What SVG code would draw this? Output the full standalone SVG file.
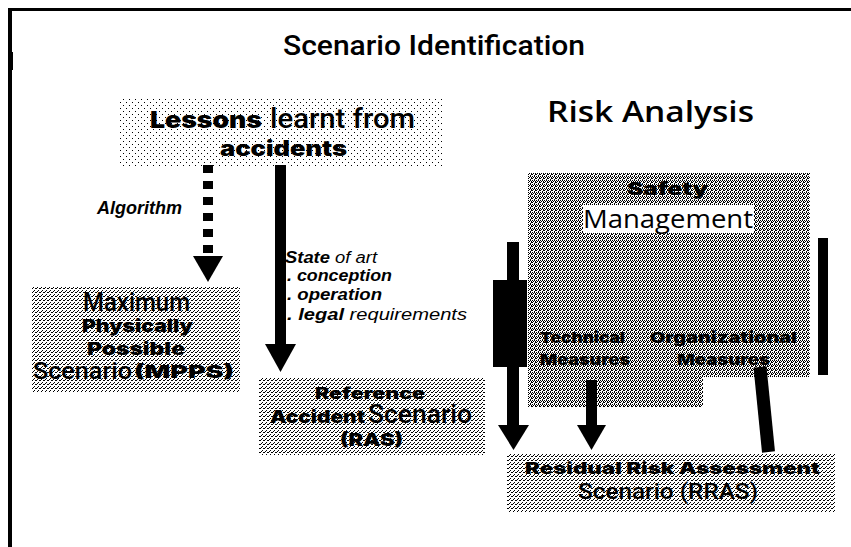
<svg xmlns="http://www.w3.org/2000/svg" width="851" height="547" viewBox="0 0 851 547">
<style>
.reg{font-family:Roboto,"Liberation Sans",sans-serif;font-weight:500;fill:#000}
.hum{font-family:"Open Sans","Liberation Sans",sans-serif;fill:#000}
.bld{font-family:Inter,"Liberation Sans",Arial,sans-serif;font-weight:900;fill:#000}
.ital{font-family:"Liberation Sans",Arial,sans-serif;font-style:italic;font-weight:bold;fill:#000}
.italr{font-family:"Liberation Sans",Arial,sans-serif;font-style:italic;fill:#000}
.ink{fill:#000}
</style>
<defs>
<pattern id="pl" width="6" height="6" patternUnits="userSpaceOnUse"><rect x="0" y="0" width="1" height="1" fill="#000"/><rect x="3" y="3" width="1" height="1" fill="#000"/></pattern>
<pattern id="pm" width="4" height="4" patternUnits="userSpaceOnUse"><rect x="0" y="0" width="1" height="1" fill="#000"/><rect x="2" y="2" width="1" height="1" fill="#000"/><rect x="3" y="0" width="1" height="1" fill="#000"/><rect x="1" y="3" width="1" height="1" fill="#000"/></pattern>
<pattern id="pd" width="4" height="4" patternUnits="userSpaceOnUse"><rect x="0" y="0" width="1" height="1" fill="#000"/><rect x="2" y="0" width="1" height="1" fill="#000"/><rect x="1" y="1" width="1" height="1" fill="#000"/><rect x="3" y="1" width="1" height="1" fill="#000"/><rect x="0" y="2" width="1" height="1" fill="#000"/><rect x="3" y="2" width="1" height="1" fill="#000"/><rect x="2" y="3" width="1" height="1" fill="#000"/></pattern>
</defs>
<rect width="851" height="547" fill="#fff"/>
<g id="frame">
<rect x="8" y="8" width="843" height="3" class="ink"/>
<rect x="8" y="8" width="4" height="539" class="ink"/>
<rect x="11" y="52" width="2" height="18" class="ink"/>
</g>
<g id="headings">
<text class="reg" x="283" y="55" font-size="28" textLength="302" lengthAdjust="spacingAndGlyphs">Scenario Identification</text>
<text class="hum" x="547" y="122" font-size="29" font-weight="600" textLength="207" lengthAdjust="spacingAndGlyphs">Risk Analysis</text>
</g>
<g id="lessons">
<rect x="120" y="98" width="323" height="69" fill="url(#pl)"/>
<text class="bld" x="150" y="128" font-size="23" textLength="112" lengthAdjust="spacingAndGlyphs">Lessons</text>
<text class="reg" x="270" y="128" font-size="28" textLength="145" lengthAdjust="spacingAndGlyphs">learnt from</text>
<text class="bld" x="220" y="156" font-size="21" textLength="127" lengthAdjust="spacingAndGlyphs">accidents</text>
</g>
<g id="mpps">
<rect x="32" y="287" width="208" height="105" fill="url(#pm)"/>
<text class="reg" x="83" y="311" font-size="25" textLength="107" lengthAdjust="spacingAndGlyphs">Maximum</text>
<text class="bld" x="82" y="332" font-size="17" textLength="111" lengthAdjust="spacingAndGlyphs">Physically</text>
<text class="bld" x="87" y="355" font-size="17" textLength="98" lengthAdjust="spacingAndGlyphs">Possible</text>
<text class="reg" x="33" y="379" font-size="24" textLength="99" lengthAdjust="spacingAndGlyphs">Scenario</text>
<text class="bld" x="134" y="378" font-size="18" textLength="100" lengthAdjust="spacingAndGlyphs">(MPPS)</text>
</g>
<g id="ras">
<rect x="259" y="377" width="226" height="78" fill="url(#pm)"/>
<text class="bld" x="315" y="399" font-size="16" textLength="110" lengthAdjust="spacingAndGlyphs">Reference</text>
<text class="bld" x="270" y="423" font-size="17" textLength="95" lengthAdjust="spacingAndGlyphs">Accident</text>
<text class="reg" x="368" y="423" font-size="25" textLength="104" lengthAdjust="spacingAndGlyphs">Scenario</text>
<text class="bld" x="340" y="446" font-size="18" textLength="63" lengthAdjust="spacingAndGlyphs">(RAS)</text>
</g>
<g id="safety">
<path d="M528 173 H810 V377 H703 V407 H528 Z" fill="url(#pd)"/>
<text class="bld" x="627" y="195" font-size="18" textLength="81" lengthAdjust="spacingAndGlyphs">Safety</text>
<rect x="583" y="205" width="171" height="28" fill="#fff"/>
<text class="hum" x="583" y="228" font-size="26" textLength="170" lengthAdjust="spacingAndGlyphs">Management</text>
<text class="bld" x="540" y="343" font-size="15" textLength="85" lengthAdjust="spacingAndGlyphs">Technical</text>
<text class="bld" x="650" y="343" font-size="15" textLength="147" lengthAdjust="spacingAndGlyphs">Organizational</text>
<text class="bld" x="540" y="365" font-size="15" textLength="90" lengthAdjust="spacingAndGlyphs">Measures</text>
<text class="bld" x="677" y="365" font-size="15" textLength="93" lengthAdjust="spacingAndGlyphs">Measures</text>
</g>
<g id="rras">
<rect x="507" y="453" width="328" height="59" fill="url(#pm)"/>
<text class="bld" x="525" y="474" font-size="16" textLength="295" lengthAdjust="spacingAndGlyphs">Residual Risk Assessment</text>
<text class="reg" x="578" y="499" font-size="22" textLength="180" lengthAdjust="spacingAndGlyphs">Scenario (RRAS)</text>
</g>
<g id="connectors">
<line x1="208" y1="165" x2="208" y2="254" stroke="#000" stroke-width="10" stroke-dasharray="8 8"/>
<polygon points="193,256 223,256 208,282" class="ink"/>
<rect x="275" y="165" width="11" height="180" class="ink"/>
<polygon points="265,344 296,344 280.5,372" class="ink"/>
<rect x="507" y="242" width="12" height="184" class="ink"/>
<rect x="493" y="280" width="34" height="87" class="ink"/>
<polygon points="498,425 529,425 513.5,450" class="ink"/>
<rect x="586" y="380" width="11" height="46" class="ink"/>
<polygon points="577,425 606,425 591.5,450" class="ink"/>
<line x1="760" y1="367" x2="768.5" y2="452" stroke="#000" stroke-width="13"/>
<rect x="818" y="238" width="10" height="137" class="ink"/>
</g>
<g id="labels">
<text class="ital" x="97" y="214" font-size="18" textLength="85" lengthAdjust="spacingAndGlyphs">Algorithm</text>
<text x="285" y="263" font-size="16" textLength="92" lengthAdjust="spacingAndGlyphs"><tspan class="ital">State</tspan><tspan class="italr"> of art</tspan></text>
<text class="ital" x="287" y="281" font-size="16" textLength="105" lengthAdjust="spacingAndGlyphs">. conception</text>
<text class="ital" x="287" y="300" font-size="16" textLength="95" lengthAdjust="spacingAndGlyphs">. operation</text>
<text x="287" y="320" font-size="16" textLength="180" lengthAdjust="spacingAndGlyphs"><tspan class="ital">. legal</tspan><tspan class="italr"> requirements</tspan></text>
</g>
</svg>
